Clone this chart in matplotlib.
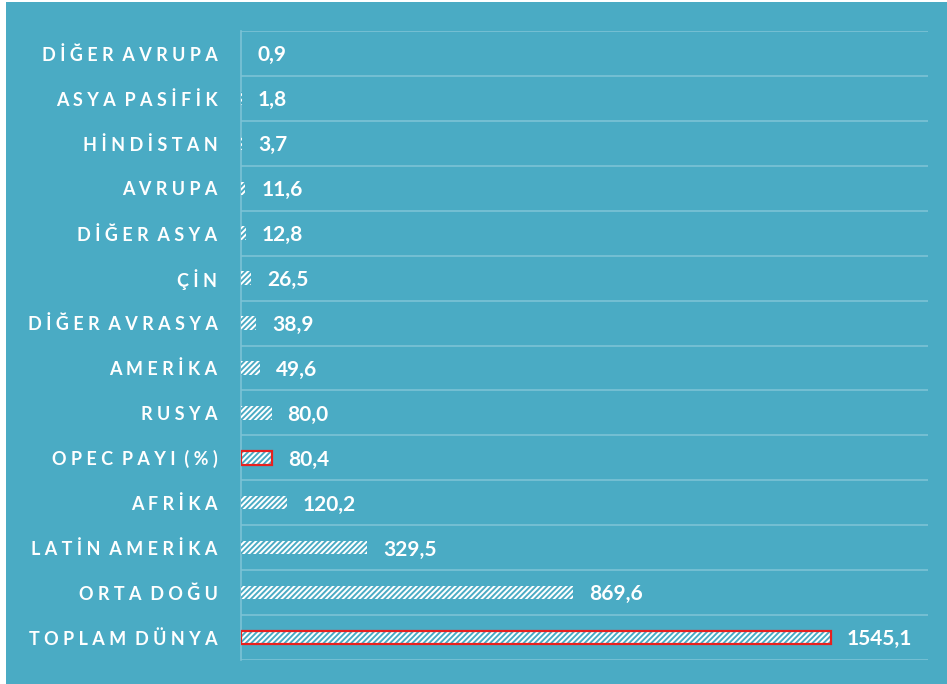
import matplotlib.pyplot as plt
from matplotlib.patches import Rectangle

categories = ["DİĞER AVRUPA", "ASYA PASİFİK", "HİNDİSTAN", "AVRUPA", "DİĞER ASYA",
              "ÇİN", "DİĞER AVRASYA", "AMERİKA", "RUSYA", "OPEC PAYI (%)",
              "AFRİKA", "LATİN AMERİKA", "ORTA DOĞU", "TOPLAM DÜNYA"]
values = [0.9, 1.8, 3.7, 11.6, 12.8, 26.5, 38.9, 49.6, 80.0, 80.4,
          120.2, 329.5, 869.6, 1545.1]
value_labels = ["0,9", "1,8", "3,7", "11,6", "12,8", "26,5", "38,9", "49,6",
                "80,0", "80,4", "120,2", "329,5", "869,6", "1545,1"]
highlight = ["OPEC PAYI (%)", "TOPLAM DÜNYA"]

bg = "#4aabc4"
grid_c = "#7cc3d6"

plt.rcParams['font.family'] = ['Lato', 'DejaVu Sans']
plt.rcParams['hatch.linewidth'] = 1.4

fig = plt.figure(figsize=(9.47, 6.84), dpi=100, facecolor="white")
fig.patches.append(Rectangle((6 / 947, 0), 1, 1 - 2 / 684, transform=fig.transFigure,
                             facecolor=bg, edgecolor="none", zorder=-10))
ax = fig.add_axes([241 / 947, 1 - 660 / 684, (928 - 241) / 947, (660 - 31) / 684])
ax.set_facecolor(bg)

y = list(range(len(categories)))
ax.barh(y, values, height=0.3, color="white", edgecolor=bg, hatch="//////",
        linewidth=0, zorder=3)
for i, (c, v) in enumerate(zip(categories, values)):
    if c in highlight:
        ax.barh(i, v, height=0.3, fill=False, edgecolor="#e8201e", linewidth=1.6, zorder=4)
    ax.text(v + 42, i + 0.04, value_labels[i], color="white", fontsize=15,
            fontweight="bold", va="center", ha="left")


def spaced(s):
    return "  ".join(" ".join(w) for w in s.split(" "))


ax.set_xlim(0, 1800)
ax.set_ylim(len(categories) - 0.5, -0.5)
ax.set_xticks([])
ax.set_yticks(y)
ax.set_yticklabels([spaced(c) for c in categories], color="white", fontsize=13,
                   fontweight="bold")
ax.tick_params(axis="y", length=0, pad=17)
for b in [i - 0.5 for i in range(len(categories) + 1)]:
    ax.axhline(b, color=grid_c, linewidth=1.2, zorder=1)
for s in ["top", "right", "bottom"]:
    ax.spines[s].set_visible(False)
ax.spines["left"].set_color(grid_c)
ax.spines["left"].set_linewidth(1.2)

fig.savefig("out.png", dpi=100, facecolor="white")
